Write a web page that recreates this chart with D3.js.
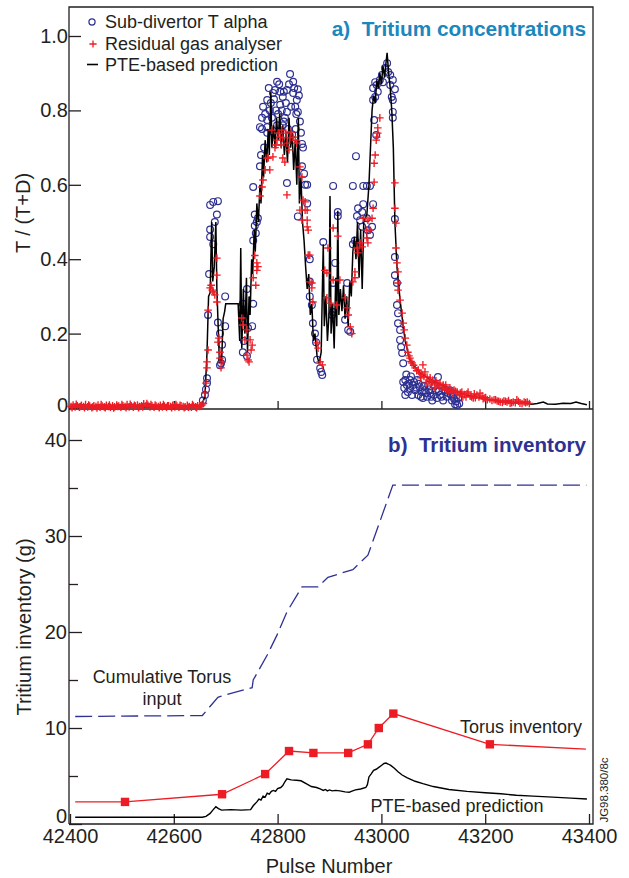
<!DOCTYPE html>
<html><head><meta charset="utf-8">
<script src="https://cdn.jsdelivr.net/npm/d3@7"></script>
<style>
html,body{margin:0;padding:0;background:#fff;}
svg{display:block;font-family:"Liberation Sans",Arial,Helvetica,sans-serif;}
</style></head><body>
<svg id="chart" width="629" height="878"></svg>
<script>
// ---- axes ----
const pulseTicks = [42400, 42600, 42800, 43000, 43200, 43400];
const concTicks = [0, 0.2, 0.4, 0.6, 0.8, 1.0];
const concTickLabels = ["0", "0.2", "0.4", "0.6", "0.8", "1.0"];
const invTicks = [0, 10, 20, 30, 40];
const invMinorTicks = [5, 15, 25, 35];

// ---- panel a: T/(T+D) versus pulse ----
// sub-divertor Penning gauge (T alpha) [pulse, T/(T+D)]
const subDivertor = [
[42656,0.02],[42660,0.035],[42662,0.05],[42664,0.067],[42664,0.08],[42666,0.25],[42668,0.36],[42670,0.46],[42670,0.48],[42670,0.546],[42676,0.44],[42676,0.554],[42679,0.50],[42683,0.52],[42685,0.556],[42685,0.23],[42689,0.20],[42693,0.17],[42693,0.13],[42689,0.115],[42691,0.12],[42699,0.22],[42699,0.30],
[42733,0.28],[42733,0.245],[42741,0.32],[42753,0.28],[42737,0.22],[42743,0.215],[42751,0.22],[42733,0.15],[42741,0.14],[42735,0.18],
[42753,0.45],[42756,0.52],[42760,0.50],[42762,0.51],[42756,0.49],[42758,0.47],[42753,0.594],[42766,0.65],
[42770,0.75],[42780,0.74],[42766,0.755],[42780,0.755],[42770,0.78],[42780,0.774],[42772,0.81],[42780,0.828],[42791,0.847],[42795,0.855],[42799,0.877],[42805,0.85],[42805,0.815],[42810,0.836],[42814,0.78],[42818,0.855],[42818,0.796],[42824,0.898],[42830,0.877],[42830,0.847],[42834,0.81],[42837,0.828],[42839,0.857],[42839,0.796],[42785,0.80],[42789,0.78],[42801,0.79],[42810,0.76],[42795,0.735],[42820,0.75],[42828,0.735],[42835,0.75],[42818,0.605],[42839,0.515],
[42776,0.79],[42783,0.86],[42787,0.82],[42793,0.83],[42797,0.80],[42803,0.87],[42808,0.80],[42812,0.85],[42816,0.82],[42822,0.87],[42826,0.81],[42832,0.86],[42836,0.79],[42841,0.84],[42843,0.77],[42774,0.70],[42768,0.68],[42845,0.74],[42812,0.77],[42799,0.76],
[42847,0.71],[42849,0.70],[42847,0.65],[42851,0.63],[42853,0.60],[42857,0.60],[42857,0.55],[42862,0.40],[42862,0.34],[42862,0.30],[42866,0.277],[42868,0.228],[42872,0.20],[42874,0.177],[42876,0.13],[42882,0.107],[42886,0.089],[42884,0.097],[42888,0.446],
[42905,0.25],[42907,0.258],[42907,0.597],[42911,0.39],[42907,0.336],[42916,0.527],[42916,0.516],[42930,0.237],[42934,0.336],[42936,0.21],[42940,0.205],[42945,0.597],[42945,0.44],[42949,0.45],[42951,0.677],[42953,0.516],[42955,0.537],[42959,0.505],[42963,0.527],[42963,0.487],[42965,0.597],[42965,0.548],[42972,0.597],[42972,0.51],[42974,0.478],[42978,0.597],[42978,0.465],[42982,0.487],[42984,0.548],
[42984,0.86],[42984,0.828],[42988,0.876],[42988,0.836],[42991,0.868],[42993,0.85],[42997,0.882],[43001,0.895],[43003,0.876],[43007,0.914],[43011,0.927],[43013,0.903],[43017,0.895],[43017,0.868],[43020,0.836],[43022,0.882],[43022,0.828],[43026,0.857],[43022,0.796],[43022,0.78],[42986,0.774],[42990,0.734],
[43026,0.508],[43026,0.406],[43026,0.357],[43030,0.336],[43030,0.277],[43032,0.255],[43032,0.228],[43036,0.21],[43036,0.183],[43038,0.164],[43040,0.148],[43042,0.12],[43046,0.075],
[43042,0.07],[43044,0.054],[43046,0.035],[43049,0.062],[43051,0.043],[43055,0.075],[43055,0.054],[43059,0.035],[43061,0.062],[43065,0.048],[43069,0.075],[43071,0.035],[43074,0.056],[43078,0.043],[43080,0.027],[43084,0.048],[43088,0.03],[43090,0.062],[43094,0.04],[43098,0.02],[43101,0.035],[43105,0.048],[43107,0.027],[43109,0.083],[43113,0.035],[43119,0.02],[43123,0.043],[43126,0.03],[43132,0.048],[43136,0.02],[43138,0.03],[43142,0.01],[43146,0.008],[43148,0.027],
[43048,0.09],[43053,0.065],[43057,0.085],[43063,0.07],[43067,0.055],[43072,0.065],[43076,0.03],[43082,0.06],[43086,0.04],[43092,0.05],[43096,0.03],[43103,0.06],[43111,0.045],[43116,0.03],[43121,0.05],[43128,0.04],[43134,0.035],[43140,0.025],[43144,0.018],[43150,0.012]
];

// residual gas analyser [pulse, T/(T+D)]
const rga = [
[42402,0.004],[42406,0.008],[42410,0.003],[42414,0.006],[42418,0.002],[42422,0.007],[42426,0.004],[42430,0.009],[42434,0.003],[42438,0.005],[42442,0.001],[42446,0.006],[42450,0.004],[42454,0.008],[42458,0.002],[42462,0.005],[42466,0.003],[42470,0.007],[42474,0.004],[42478,0.002],[42482,0.006],[42486,0.003],[42490,0.008],[42494,0.005],[42498,0.002],[42502,0.006],[42506,0.004],[42510,0.009],[42514,0.003],[42518,0.006],[42522,0.002],[42526,0.005],[42530,0.008],[42534,0.004],[42538,0.006],[42542,0.011],[42546,0.005],[42550,0.008],[42554,0.003],[42558,0.006],[42562,0.002],[42566,0.005],[42570,0.004],[42574,0.007],[42578,0.003],[42582,0.005],[42586,0.002],[42590,0.006],[42594,0.004],[42598,0.007],[42602,0.003],[42606,0.005],[42610,0.002],[42614,0.006],[42618,0.004],[42622,0.003],[42626,0.007],[42630,0.004],[42634,0.002],[42638,0.005],[42642,0.003],[42646,0.006],[42650,0.004],[42654,0.008],[42657,0.012],
[42404,0.001],[42412,0.010],[42420,0.004],[42428,0.001],[42436,0.008],[42444,0.003],[42452,0.000],[42460,0.009],[42468,0.001],[42476,0.008],[42484,0.000],[42492,0.004],[42500,0.009],[42508,0.001],[42516,0.010],[42524,0.007],[42532,0.001],[42540,0.003],[42548,0.012],[42556,0.009],[42564,0.008],[42572,0.001],[42580,0.009],[42588,0.006],[42596,0.001],[42604,0.009],[42612,0.007],[42620,0.001],[42628,0.002],[42636,0.009],[42644,0.001],[42652,0.006],
[42660,0.04],[42662,0.067],[42664,0.108],[42664,0.124],[42666,0.156],[42666,0.263],[42670,0.323],[42672,0.33],[42676,0.312],[42674,0.317],[42683,0.285],[42683,0.403],[42683,0.357],[42679,0.304],[42685,0.177],[42687,0.188],[42689,0.15],[42693,0.124],[42691,0.108],[42689,0.134],
[42731,0.242],[42737,0.183],[42741,0.21],[42743,0.129],[42741,0.142],[42747,0.183],[42751,0.169],[42733,0.223],[42745,0.124],[42749,0.156],
[42753,0.35],[42756,0.41],[42760,0.39],[42760,0.37],[42762,0.38],[42758,0.33],[42766,0.57],[42770,0.594],[42772,0.613],[42776,0.64],[42780,0.672],[42782,0.672],[42785,0.64],[42791,0.675],[42795,0.70],[42799,0.72],[42805,0.728],[42810,0.726],[42810,0.672],[42814,0.661],[42818,0.712],[42818,0.573],[42824,0.726],[42830,0.728],[42837,0.712],[42843,0.648],[42801,0.739],[42808,0.747],[42816,0.739],[42826,0.742],[42834,0.72],[42822,0.694],[42789,0.747],[42797,0.707],[42807,0.707],
[42847,0.621],[42843,0.532],[42847,0.505],[42849,0.559],[42853,0.554],[42853,0.532],[42857,0.532],[42857,0.505],[42859,0.478],[42857,0.487],[42859,0.411],[42862,0.411],[42862,0.339],[42866,0.336],[42866,0.323],[42868,0.285],[42876,0.175],[42878,0.161],[42882,0.124],[42886,0.116],[42895,0.296],[42901,0.282],[42907,0.484],[42916,0.462],[42897,0.43],[42891,0.37],[42895,0.363],[42907,0.344],[42913,0.277],[42920,0.344],[42930,0.296],[42934,0.269],[42936,0.25],[42940,0.218],[42943,0.2],[42945,0.339],[42949,0.366],[42949,0.35],[42953,0.43],[42955,0.417],[42959,0.444],[42963,0.433],[42965,0.51],[42972,0.457],[42972,0.478],[42974,0.444],[42974,0.505],[42978,0.478],[42982,0.51],[42984,0.537],[42986,0.607],[42986,0.658],[42988,0.68],[42990,0.72],[42991,0.728],[42993,0.753],[42993,0.739],[42997,0.78],
[43026,0.605],[43026,0.537],[43028,0.497],[43028,0.43],[43030,0.39],[43032,0.366],[43032,0.336],[43032,0.317],[43036,0.29],[43040,0.255],[43042,0.228],[43046,0.188],[43049,0.169],[43051,0.15],[43055,0.134],[43059,0.121],[43065,0.108],[43071,0.102],[43074,0.094],[43080,0.116],[43084,0.097],[43088,0.083],[43094,0.081],[43099,0.075],[43105,0.073],[43113,0.067],[43119,0.062],[43126,0.048],[43132,0.054],[43138,0.04],[43146,0.043],[43152,0.04],[43157,0.03],[43165,0.038],[43171,0.032],[43177,0.027],[43184,0.035],[43190,0.04],[43198,0.027],[43204,0.022],[43209,0.024],[43217,0.022],[43223,0.019],[43229,0.016],[43236,0.019],[43242,0.016],[43248,0.013],[43254,0.016],[43261,0.022],[43267,0.013],[43275,0.016],[43281,0.016],
[43076,0.081],[43086,0.067],[43096,0.062],[43103,0.054],[43109,0.062],[43117,0.054],[43124,0.062],[43130,0.043],[43140,0.048],[43155,0.043],[43167,0.043],[43179,0.038],[43194,0.032],
[43044,0.21],[43053,0.14],[43057,0.125],[43062,0.115],[43068,0.10],[43078,0.09],[43082,0.085],[43092,0.075],[43098,0.07],[43107,0.066],[43111,0.06],[43121,0.055],[43128,0.05],[43135,0.047],[43143,0.045],[43150,0.035],[43160,0.036],[43163,0.03],[43174,0.03],[43181,0.028],[43188,0.03],[43196,0.025],[43201,0.028],[43213,0.02],[43220,0.022],[43226,0.018],[43233,0.015],[43239,0.018],[43245,0.02],[43251,0.014],[43258,0.014],[43264,0.018],[43271,0.012],[43278,0.014],[43285,0.012]
];

// PTE-based prediction of T/(T+D) [pulse, value]
const pteConc = [
[42400,0.002],[42500,0.002],[42600,0.003],[42652,0.003],
[42660,0.03],[42664,0.15],[42667,0.30],[42670,0.31],[42673,0.50],[42675,0.34],[42678,0.38],[42681,0.50],[42683,0.32],[42686,0.20],[42688,0.12],[42690,0.14],[42692,0.12],[42695,0.24],[42698,0.26],[42700,0.28],[42724,0.28],
[42727,0.18],[42729,0.43],[42731,0.16],[42734,0.32],[42737,0.20],[42740,0.35],[42742,0.15],[42745,0.30],[42747,0.25],[42750,0.40],[42752,0.36],[42755,0.48],[42757,0.42],[42760,0.55],[42763,0.50],[42766,0.60],[42768,0.55],[42771,0.68],[42773,0.62],[42776,0.72],[42779,0.66],[42782,0.75],[42784,0.68],[42787,0.85],[42789,0.70],[42792,0.76],[42795,0.70],[42798,0.78],[42801,0.72],[42804,0.79],[42807,0.70],[42810,0.76],[42813,0.68],[42816,0.74],[42819,0.66],[42822,0.78],[42825,0.70],[42828,0.74],[42831,0.64],[42834,0.72],[42837,0.60],[42840,0.78],[42842,0.55],[42845,0.62],[42848,0.50],[42851,0.45],[42854,0.38],[42857,0.32],[42860,0.36],[42863,0.25],[42866,0.28],[42869,0.18],[42872,0.20],[42876,0.14],[42880,0.12],[42884,0.15],[42886,0.30],[42888,0.44],[42890,0.22],[42893,0.30],[42896,0.18],[42899,0.25],[42901,0.57],[42903,0.20],[42906,0.28],[42909,0.16],[42912,0.35],[42914,0.22],[42916,0.53],[42918,0.25],[42921,0.32],[42924,0.26],[42927,0.33],[42930,0.24],[42933,0.30],[42936,0.22],[42939,0.34],[42942,0.30],[42945,0.42],[42948,0.46],[42951,0.40],[42954,0.50],[42957,0.35],[42960,0.48],[42963,0.32],[42966,0.50],[42972,0.52],[42976,0.60],[42979,0.70],[42982,0.80],[42985,0.84],[42988,0.82],[42991,0.88],[42994,0.86],[42997,0.90],[43000,0.87],[43003,0.92],[43006,0.89],[43009,0.93],[43011,0.955],[43014,0.90],[43017,0.86],[43020,0.80],[43023,0.70],[43026,0.50],[43030,0.38],[43036,0.29],[43042,0.22],[43046,0.18],[43051,0.15],[43055,0.13],[43065,0.11],[43074,0.095],[43090,0.08],[43113,0.065],[43130,0.052],[43152,0.04],[43170,0.033],[43190,0.027],[43210,0.022],[43230,0.018],[43250,0.015],[43265,0.013],[43280,0.012],[43290,0.01],[43300,0.012],[43312,0.016],[43320,0.011],[43335,0.01],[43350,0.013],[43365,0.012],[43375,0.016],[43385,0.012],[43396,0.009]
];

// ---- panel b: tritium inventory (g) versus pulse ----
const torusInput = [[42410,11.2],[42655,11.3],[42685,13.2],[42690,13.3],[42751,14.2],[42753,15.0],[42780,17.6],[42799,19.7],[42818,22.1],[42847,24.7],[42878,24.7],[42897,25.7],[42945,26.5],[42974,28.0],[43022,35.3],[43395,35.3]];
const torusInventory = [[42410,2.3],[42506,2.3],[42693,3.1],[42776,5.2],[42822,7.6],[42869,7.4],[42936,7.4],[42974,8.3],[42995,10.0],[43023,11.5],[43209,8.3],[43394,7.8]];
const pteInventory = [[42410,0.7],[42655,0.7],[42662,0.8],[42670,1.1],[42676,1.5],[42681,1.8],[42686,1.6],[42692,1.45],[42710,1.5],[42730,1.45],[42748,1.5],[42753,1.9],[42760,2.3],[42764,2.6],[42768,2.5],[42772,2.9],[42776,2.8],[42780,3.2],[42784,3.1],[42788,3.4],[42792,3.5],[42796,3.4],[42800,3.7],[42806,3.8],[42810,4.0],[42814,4.4],[42818,4.7],[42826,4.6],[42836,4.55],[42845,4.5],[42855,4.2],[42865,3.9],[42875,3.8],[42882,3.65],[42888,3.5],[42892,3.6],[42896,3.45],[42900,3.55],[42905,3.45],[42912,3.5],[42920,3.45],[42930,3.35],[42938,3.3],[42942,3.4],[42950,3.55],[42960,3.65],[42970,3.8],[42973,4.1],[42976,4.9],[42980,5.2],[42985,5.6],[42990,5.7],[42995,5.9],[43000,6.1],[43005,6.3],[43009,6.35],[43013,6.25],[43018,6.1],[43025,5.8],[43032,5.45],[43040,5.1],[43050,4.8],[43065,4.45],[43080,4.2],[43100,3.9],[43130,3.6],[43165,3.4],[43200,3.25],[43230,3.15],[43260,3.0],[43292,2.9],[43330,2.8],[43365,2.7],[43396,2.6]];

// ---- drawing ----
const ink = "#231f20", navy = "#2e3192", red = "#ed1c24", teal = "#1b87bd";
const svg = d3.select("#chart");
const L = 69, R = 593, T = 7, MID = 409, B = 824;

const x = d3.scaleLinear().domain([42400, 43400]).range([70, 589]);
const yA = d3.scaleLinear().domain([0, 1]).range([408, 36]);
const yB = d3.scaleLinear().domain([0, 40]).range([824, 440]);

function styleAxis(g) {
  g.select(".domain").remove();
  g.selectAll(".tick line").attr("stroke", ink).attr("stroke-width", 1.3);
  g.selectAll(".tick text").attr("fill", ink).style("font-size", "20px")
    .style("font-family", '"Liberation Sans", Arial, sans-serif');
}

// panel a y axis
const gA = svg.append("g").attr("transform", `translate(${L},0)`)
  .call(d3.axisLeft(yA).tickValues(concTicks).tickSize(-12).tickPadding(1)
    .tickFormat((d, i) => concTickLabels[i]));
styleAxis(gA);
gA.selectAll(".tick text").filter(d => d === 0).attr("dy", "0.15em");

// panel b y axis
const gB = svg.append("g").attr("transform", `translate(${L},0)`)
  .call(d3.axisLeft(yB).tickValues(invTicks).tickSize(-13).tickPadding(2).tickFormat(d3.format("d")));
styleAxis(gB);
gB.selectAll(".tick text").filter(d => d === 0).attr("dy", "-0.08em");
const gBm = svg.append("g").attr("transform", `translate(${L},0)`)
  .call(d3.axisLeft(yB).tickValues(invMinorTicks).tickSize(-9).tickFormat(""));
styleAxis(gBm);

// x axes
const gX = svg.append("g").attr("transform", `translate(0,${B})`)
  .call(d3.axisBottom(x).tickValues(pulseTicks).tickSize(-10).tickPadding(5).tickFormat(d3.format("d")));
styleAxis(gX);
const gXa = svg.append("g").attr("transform", `translate(0,${MID})`)
  .call(d3.axisBottom(x).tickValues(pulseTicks.slice(1)).tickSize(-8).tickFormat(""));
styleAxis(gXa);

// frame and panel divider
svg.append("path")
  .attr("d", `M${L},${B}V${T}H${R}V${B}H${L}M${L},${MID}H${R}`)
  .attr("fill", "none").attr("stroke", ink).attr("stroke-width", 1.3);

// ---- panel a marks ----
const pA = svg.append("g");
pA.selectAll("circle").data(subDivertor).join("circle")
  .attr("cx", d => x(d[0])).attr("cy", d => yA(d[1])).attr("r", 3.4)
  .attr("fill", "none").attr("stroke", navy).attr("stroke-width", 1.2);

pA.append("path").datum(pteConc)
  .attr("d", d3.line().x(d => x(d[0])).y(d => yA(d[1])))
  .attr("fill", "none").attr("stroke", "#000").attr("stroke-width", 1.5);

const crossPath = "M-3.8,0H3.8M0,-3.8V3.8";
pA.selectAll("path.rga").data(rga).join("path").attr("class", "rga")
  .attr("transform", d => `translate(${x(d[0])},${yA(d[1])})`)
  .attr("d", crossPath).attr("stroke", red).attr("stroke-width", 1.35);

// legend
const leg = svg.append("g").style("font-size", "18px").attr("fill", ink);
leg.append("circle").attr("cx", 92).attr("cy", 22).attr("r", 3.1)
  .attr("fill", "none").attr("stroke", navy).attr("stroke-width", 1.2);
leg.append("path").attr("transform", "translate(93,44)").attr("d", "M-3.6,0H3.6M0,-3.6V3.6")
  .attr("stroke", red).attr("stroke-width", 1.3);
leg.append("path").attr("d", "M87,64.5H98").attr("stroke", "#000").attr("stroke-width", 1.6);
leg.append("text").attr("x", 105).attr("y", 28).text("Sub-divertor T alpha");
leg.append("text").attr("x", 105).attr("y", 50).text("Residual gas analyser");
leg.append("text").attr("x", 105).attr("y", 71).text("PTE-based prediction");

svg.append("text").attr("x", 586).attr("y", 36).attr("text-anchor", "end")
  .attr("fill", teal).style("font-size", "20.8px").style("font-weight", "bold")
  .style("white-space", "pre").text("a)  Tritium concentrations");

// ---- panel b marks ----
const lineB = d3.line().x(d => x(d[0])).y(d => yB(d[1]));
svg.append("path").datum(torusInput).attr("d", lineB)
  .attr("fill", "none").attr("stroke", navy).attr("stroke-width", 1.3)
  .attr("stroke-dasharray", "17,6");
svg.append("path").datum(pteInventory).attr("d", lineB)
  .attr("fill", "none").attr("stroke", "#000").attr("stroke-width", 1.4);
svg.append("path").datum(torusInventory).attr("d", lineB)
  .attr("fill", "none").attr("stroke", red).attr("stroke-width", 1.3);
// measured points (line ends are extrapolations, no marker)
svg.selectAll("rect.inv").data(torusInventory.slice(1, -1)).join("rect").attr("class", "inv")
  .attr("x", d => x(d[0]) - 4.2).attr("y", d => yB(d[1]) - 4.2)
  .attr("width", 8.4).attr("height", 8.4).attr("fill", red);

svg.append("text").attr("x", 586).attr("y", 452).attr("text-anchor", "end")
  .attr("fill", navy).style("font-size", "20.6px").style("font-weight", "bold")
  .style("white-space", "pre").text("b)  Tritium inventory");

const ann = svg.append("g").style("font-size", "18px").attr("fill", ink);
ann.append("text").attr("x", 162).attr("y", 683).attr("text-anchor", "middle").text("Cumulative Torus");
ann.append("text").attr("x", 162).attr("y", 705).attr("text-anchor", "middle").text("input");
ann.append("text").attr("x", 582).attr("y", 733).attr("text-anchor", "end").text("Torus inventory");
ann.append("text").attr("x", 457).attr("y", 812).attr("text-anchor", "middle").text("PTE-based prediction");

// axis titles
svg.append("text").attr("transform", "translate(30,213) rotate(-90)")
  .attr("text-anchor", "middle").attr("fill", ink).style("font-size", "20px").text("T / (T+D)");
svg.append("text").attr("transform", "translate(31,627) rotate(-90)")
  .attr("text-anchor", "middle").attr("fill", ink).style("font-size", "20px").text("Tritium inventory (g)");
svg.append("text").attr("x", 329).attr("y", 873).attr("text-anchor", "middle")
  .attr("fill", ink).style("font-size", "20px").text("Pulse Number");
svg.append("text").attr("transform", "translate(608,790) rotate(-90)")
  .attr("text-anchor", "middle").attr("fill", ink).style("font-size", "11.5px").text("JG98.380/8c");
</script>
</body></html>
